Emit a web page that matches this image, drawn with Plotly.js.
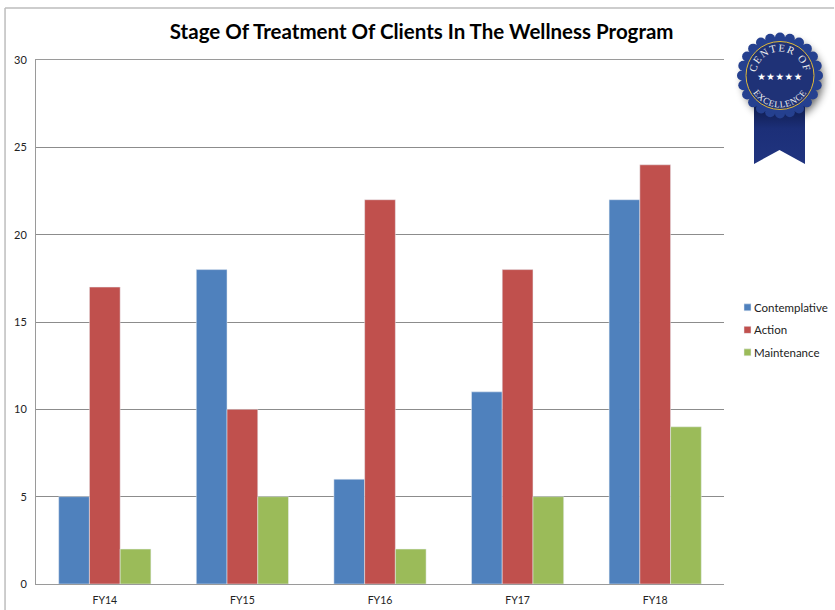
<!DOCTYPE html>
<html><head><meta charset="utf-8">
<script src="https://cdn.plot.ly/plotly-3.0.1.min.js"></script>
<style>html,body{margin:0;padding:0;background:#fff;overflow:hidden}#c{width:835px;height:610px;position:relative}
#badge{position:absolute;left:725px;top:25px;width:110px;height:145px;pointer-events:none}</style></head>
<body><div id="c"><div id="chart"></div>
<svg id="badge" viewBox="725 25 110 145" xmlns="http://www.w3.org/2000/svg">
<defs>
<filter id="sh" x="-30%" y="-30%" width="160%" height="160%"><feGaussianBlur stdDeviation="4"/></filter>
<linearGradient id="rib" x1="0" y1="0" x2="0" y2="1"><stop offset="0" stop-color="#0e1b4c"/><stop offset="0.4" stop-color="#1c2f78"/><stop offset="1" stop-color="#20347f"/></linearGradient>
<path id="arcTop" d="M 757.45 83.7 A 24 24 0 1 1 802.55 83.7"/>
<path id="arcBot" d="M 749.9 64.5 A 32 32 0 1 0 810.1 64.5"/>
</defs>
<circle cx="783" cy="80" r="40" fill="#000" opacity="0.6" filter="url(#sh)"/>
<path d="M754 105 L805 105 L805 164 L779.5 150 L754 164 Z" fill="url(#rib)"/>
<g id="scallop" fill="#25408f"></g>
<circle cx="780" cy="75.5" r="38.5" fill="#25408f"/>
<circle cx="780" cy="75.5" r="34" fill="#1f3277" stroke="#e0b93a" stroke-width="1"/>
<text font-family="Liberation Serif" font-size="10.5" fill="#f0f0f0" letter-spacing="1.4"><textPath href="#arcTop" startOffset="50%" text-anchor="middle">CENTER OF</textPath></text>
<text font-family="Liberation Serif" font-size="9" fill="#f0f0f0" letter-spacing="0.6"><textPath href="#arcBot" startOffset="50%" text-anchor="middle">EXCELLENCE</textPath></text>
<text x="780" y="80" font-size="9.5" fill="#fff" text-anchor="middle" letter-spacing="0.6" font-family="DejaVu Sans">★★★★★</text>
</svg></div>
<script>
var categories = ['FY14','FY15','FY16','FY17','FY18'];
var contemplative = [5,18,6,11,22];
var action = [17,10,22,18,24];
var maintenance = [2,5,2,5,9];
var yTicks = [0,5,10,15,20,25,30];
var seriesNames = ['Contemplative','Action','Maintenance'];
var seriesColors = ['#4f81bd','#c0504d','#9bbb59'];
var font = 'Lato, "Open Sans", sans-serif';
var traces = [contemplative,action,maintenance].map(function(v,i){
  return {type:'bar',x:categories,y:v,name:seriesNames[i],legendgroup:seriesNames[i],marker:{color:seriesColors[i],line:{color:'#e8eef4',width:0.5}}};
});
var g = document.getElementById('scallop'), NS='http://www.w3.org/2000/svg';
for (var k=0;k<24;k++){var a=k*Math.PI/12,c=document.createElementNS(NS,'circle');
  c.setAttribute('cx',780+38*Math.cos(a));c.setAttribute('cy',75.5+38*Math.sin(a));c.setAttribute('r',5);g.appendChild(c);}
Plotly.newPlot('chart',traces,{
  width:835,height:610,
  paper_bgcolor:'rgba(0,0,0,0)',plot_bgcolor:'#fff',
  margin:{l:36,r:111,t:60,b:26,pad:0},
  barmode:'group',bargap:0.33,bargroupgap:0,
  font:{family:font,size:11,color:'#222'},
  title:{text:'<b>Stage Of Treatment Of Clients In The Wellness Program</b>',font:{family:font,size:20.5,color:'#000'},x:0.505,xanchor:'center',y:0.948,yanchor:'middle'},
  xaxis:{type:'category',showgrid:false,showline:true,mirror:true,linecolor:'#9a9a9a',linewidth:1,ticks:'',tickfont:{size:10.5},ticklabelstandoff:6},
  yaxis:{range:[0,30],tickvals:yTicks,ticktext:yTicks.map(String),showgrid:true,gridcolor:'#8c8c8c',gridwidth:1,showline:true,linecolor:'#9a9a9a',linewidth:1,ticks:'',zeroline:false,tickfont:{size:11},ticklabelstandoff:6},
  legend:{x:0.95,xanchor:'left',y:0.485,yanchor:'middle',font:{size:11.5},bgcolor:'rgba(0,0,0,0)',tracegroupgap:3.5,itemwidth:30,traceorder:'grouped'},
  shapes:[
    {type:'line',xref:'paper',yref:'paper',x0:-0.045,x1:1.16,y0:1.099,y1:1.099,line:{color:'#bdbdbd',width:1.5}},
    {type:'line',xref:'paper',yref:'paper',x0:-0.045,x1:-0.045,y0:1.099,y1:-0.05,line:{color:'#bdbdbd',width:1.5}}
  ]
},{displayModeBar:false}).then(function(gd){
  gd.querySelectorAll('.legend .legendpoints path').forEach(function(p){
    p.setAttribute('d','M3.5,3.5H-3.5V-3.5H3.5Z');
    p.setAttribute('transform','translate(33.5,0)');
  });
  var lg = gd.querySelector('.legend');
  var m = /translate\(\s*([-\d.]+)[ ,]+([-\d.]+)/.exec(lg.getAttribute('transform'));
  lg.setAttribute('transform','translate(714,'+m[2]+')');
});
</script></body></html>
